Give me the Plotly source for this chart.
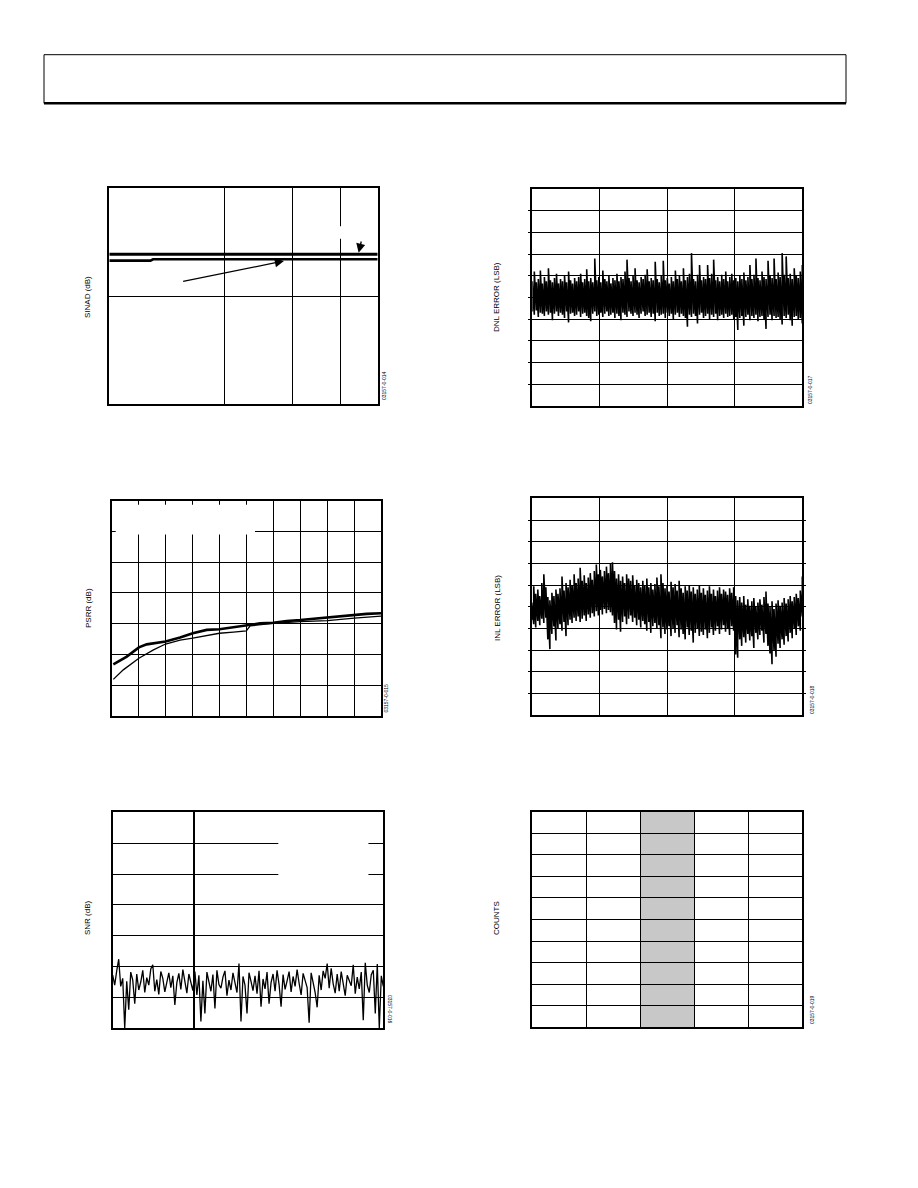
import numpy as np
import plotly.graph_objects as go

# page (window) size and the 8px body margin of the html page
PAGE_W, PAGE_H = 918, 1188
OFF = 8
W, H = PAGE_W - 2 * OFF, PAGE_H - 2 * OFF

# ---------------- data ----------------
# SINAD vs frequency (log x)
sinad_freq_a = [1, 2, 3, 4, 5]
sinad_a = [87.8, 87.8, 87.8, 87.8, 87.8]
sinad_freq_b = [1, 1.28, 1.30, 2, 3, 4, 5]
sinad_b = [86.6, 86.6, 86.85, 86.85, 86.85, 86.85, 86.85]
sinad_arrow_heads = [(2.85, 86.54), (4.46, 88.07)]
sinad_arrow_tails = [(1.543, 82.7), (4.54, 90.43)]

# DNL error envelope per code column (LSB)
dnl_hi = [0.15, 0.24, 0.14, 0.17, 0.25, 0.13, 0.19, 0.15, 0.27, 0.16,
          0.14, 0.18, 0.22, 0.13, 0.17, 0.15, 0.20, 0.14, 0.24, 0.16,
          0.13, 0.18, 0.15, 0.19, 0.22, 0.14, 0.17, 0.26, 0.15, 0.18,
          0.14, 0.36, 0.16, 0.19, 0.14, 0.25, 0.17, 0.15, 0.20, 0.13,
          0.18, 0.16, 0.22, 0.15, 0.19, 0.17, 0.24, 0.35, 0.18, 0.15,
          0.20, 0.27, 0.16, 0.14, 0.19, 0.17, 0.21, 0.26, 0.15, 0.18,
          0.16, 0.33, 0.17, 0.14, 0.20, 0.34, 0.16, 0.18, 0.13, 0.19,
          0.15, 0.25, 0.17, 0.20, 0.15, 0.27, 0.16, 0.19, 0.22, 0.41,
          0.17, 0.15, 0.21, 0.30, 0.16, 0.19, 0.17, 0.30, 0.18, 0.22,
          0.35, 0.16, 0.19, 0.15, 0.21, 0.17, 0.24, 0.15, 0.19, 0.22,
          0.16, 0.18, 0.15, 0.20, 0.17, 0.23, 0.16, 0.19, 0.30, 0.17,
          0.21, 0.36, 0.18, 0.16, 0.24, 0.19, 0.17, 0.34, 0.20, 0.18,
          0.36, 0.17, 0.23, 0.19, 0.41, 0.21, 0.38, 0.18, 0.22, 0.17,
          0.27, 0.20, 0.18, 0.24, 0.30]
dnl_lo = [-0.13, -0.16, -0.12, -0.18, -0.14, -0.15, -0.17, -0.13, -0.16, -0.14,
          -0.21, -0.15, -0.13, -0.17, -0.14, -0.16, -0.19, -0.13, -0.23, -0.15,
          -0.14, -0.17, -0.16, -0.13, -0.18, -0.15, -0.14, -0.17, -0.19, -0.22,
          -0.15, -0.13, -0.17, -0.16, -0.14, -0.18, -0.15, -0.13, -0.17, -0.16,
          -0.14, -0.19, -0.15, -0.17, -0.21, -0.14, -0.16, -0.18, -0.13, -0.15,
          -0.17, -0.14, -0.16, -0.19, -0.15, -0.13, -0.17, -0.16, -0.14, -0.18,
          -0.15, -0.22, -0.14, -0.17, -0.16, -0.15, -0.19, -0.14, -0.17, -0.15,
          -0.20, -0.16, -0.14, -0.18, -0.15, -0.17, -0.19, -0.27, -0.16, -0.18,
          -0.15, -0.17, -0.24, -0.16, -0.14, -0.19, -0.17, -0.15, -0.20, -0.16,
          -0.18, -0.15, -0.21, -0.17, -0.16, -0.19, -0.15, -0.18, -0.17, -0.16,
          -0.20, -0.18, -0.30, -0.19, -0.17, -0.26, -0.18, -0.16, -0.21, -0.17,
          -0.19, -0.16, -0.22, -0.18, -0.17, -0.20, -0.29, -0.18, -0.16, -0.21,
          -0.17, -0.19, -0.18, -0.20, -0.25, -0.17, -0.19, -0.16, -0.21, -0.26,
          -0.18, -0.17, -0.20, -0.19, -0.24]

# INL error envelope per code column (LSB)
inl_hi = [0.04, 0.19, 0.12, 0.16, 0.10, 0.22, 0.30, 0.18, 0.09, 0.06,
          0.13, 0.10, 0.16, 0.12, 0.17, 0.28, 0.15, 0.22, 0.18, 0.25,
          0.20, 0.30, 0.22, 0.26, 0.36, 0.24, 0.29, 0.22, 0.27, 0.31,
          0.25, 0.33, 0.39, 0.30, 0.34, 0.28, 0.33, 0.37, 0.31, 0.40,
          0.41, 0.33, 0.26, 0.30, 0.24, 0.28, 0.22, 0.30, 0.26, 0.24,
          0.29, 0.20, 0.25, 0.22, 0.18, 0.24, 0.20, 0.26, 0.18, 0.22,
          0.16, 0.21, 0.27, 0.19, 0.30, 0.22, 0.17, 0.20, 0.14, 0.23,
          0.18, 0.21, 0.15, 0.24, 0.17, 0.13, 0.19, 0.15, 0.20, 0.14,
          0.18, 0.12, 0.16, 0.20, 0.13, 0.17, 0.11, 0.15, 0.19, 0.12,
          0.16, 0.10, 0.15, 0.18, 0.12, 0.16, 0.14, 0.11, 0.17, 0.13,
          0.18, 0.10, 0.06, 0.09, 0.04, 0.10, 0.02, 0.07, 0.01, 0.05,
          0.08, 0.00, 0.04, 0.07, 0.02, 0.09, 0.14, 0.03, 0.00, 0.05,
          -0.02, 0.03, 0.06, 0.01, 0.04, 0.08, 0.03, 0.07, 0.10, 0.05,
          0.09, 0.12, 0.08, 0.15, 0.28]
inl_lo = [-0.12, -0.16, -0.19, -0.13, -0.17, -0.11, -0.15, -0.10, -0.30, -0.39,
          -0.25, -0.18, -0.31, -0.20, -0.16, -0.22, -0.14, -0.27, -0.17, -0.12,
          -0.15, -0.10, -0.13, -0.09, -0.14, -0.11, -0.08, -0.13, -0.07, -0.10,
          -0.06, -0.09, -0.04, -0.08, -0.03, -0.07, -0.02, -0.06, -0.03, -0.05,
          -0.08, -0.15, -0.21, -0.12, -0.23, -0.14, -0.09, -0.16, -0.11, -0.08,
          -0.14, -0.10, -0.17, -0.12, -0.19, -0.13, -0.16, -0.22, -0.14, -0.24,
          -0.18, -0.15, -0.20, -0.17, -0.29, -0.19, -0.25, -0.21, -0.18, -0.27,
          -0.20, -0.24, -0.17, -0.28, -0.21, -0.25, -0.30, -0.19, -0.26, -0.22,
          -0.33, -0.24, -0.20, -0.27, -0.23, -0.26, -0.21, -0.29, -0.24, -0.19,
          -0.26, -0.22, -0.18, -0.25, -0.21, -0.17, -0.23, -0.20, -0.26, -0.18,
          -0.22, -0.44, -0.47, -0.30, -0.36, -0.28, -0.33, -0.25, -0.31, -0.27,
          -0.38, -0.24, -0.30, -0.26, -0.22, -0.33, -0.25, -0.36, -0.43, -0.53,
          -0.40, -0.46, -0.34, -0.38, -0.30, -0.35, -0.27, -0.32, -0.24, -0.29,
          -0.20, -0.26, -0.18, -0.22, -0.09]

# PSRR vs frequency
psrr_freq_a = [0.6, 5.6, 10.1, 13.0, 20.0, 25.4, 30.1, 35.3, 40.0, 45.2, 50.0,
               55.1, 60.0, 65.0, 70.0, 74.9, 80.1, 84.8, 90.1, 94.7, 100]
psrr_a = [16.8, 19.3, 22.3, 23.3, 24.2, 25.5, 26.9, 28.0, 28.2, 28.8, 29.3,
          30.1, 30.3, 30.9, 31.2, 31.6, 32.0, 32.3, 32.8, 33.2, 33.4]
psrr_freq_b = [0.6, 4.3, 10.1, 15.5, 20.0, 25.4, 30.1, 35.3, 40.0, 45.2, 50.0,
               51.4, 60.0, 70.0, 80.1, 90.1, 100]
psrr_b = [11.9, 15.0, 18.8, 21.5, 23.4, 24.7, 25.3, 26.1, 26.9, 27.3, 27.7,
          29.3, 30.1, 30.7, 31.0, 31.8, 32.5]

# SNR noise trace
snr_vals = [48.6, 47.0, 49.3, 51.2, 46.8, 48.1, 40.0, 47.6, 43.0, 49.1,
            47.8, 44.0, 48.8, 46.2, 47.5, 49.4, 45.8, 48.2, 47.0, 49.6,
            50.3, 46.0, 47.9, 45.5, 49.2, 48.1, 45.9, 47.2, 49.0, 46.6,
            48.5, 43.8, 47.4, 48.9, 46.3, 49.5, 47.9, 45.7, 48.8, 47.3,
            46.1, 49.2, 45.4, 48.6, 41.1, 47.7, 42.4, 49.1, 47.5, 46.0,
            48.7, 43.2, 49.4, 47.1, 46.5, 48.3, 49.3, 45.3, 47.8, 46.2,
            49.0, 47.5, 45.8, 50.5, 41.1, 48.4, 47.0, 42.4, 49.0, 47.6,
            46.1, 48.5, 45.6, 49.3, 43.5, 48.0, 46.4, 49.1, 44.0, 47.4,
            48.8, 46.0, 49.4, 47.1, 43.5, 48.7, 46.3, 47.7, 49.2, 45.9,
            48.4, 46.8, 49.5, 47.3, 45.4, 48.9, 47.6, 46.6, 40.9, 49.0,
            47.4, 45.8, 43.4, 48.6, 46.2, 49.3, 48.1, 50.5, 46.5, 49.7,
            47.2, 45.7, 48.8, 46.0, 49.2, 47.4, 45.3, 48.6, 47.8, 46.9,
            50.3, 45.6, 48.3, 46.4, 49.1, 41.3, 50.6, 47.0, 45.8, 48.7,
            49.4, 42.4, 50.4, 40.0, 48.5, 46.8]

# Histogram of codes
hist_codes = [32766, 32767, 32768, 32769, 32770]
hist_counts = [0, 0, 8192, 0, 0]

fig_ids = ["03157-0-014", "03157-0-017", "03157-0-015",
           "03157-0-018", "03157-0-016", "03157-0-019"]
y_titles = ["SINAD (dB)", "DNL ERROR (LSB)", "PSRR (dB)",
            "INL ERROR (LSB)", "SNR (dB)", "COUNTS"]

# ---------------- layout helpers ----------------
def fx(px):
    return (px - OFF) / W

def fy(py):
    return 1 - (py - OFF) / H

boxes = {
    1: (109.3, 377.7, 188.3, 404.3),
    2: (532.3, 802.3, 189.3, 405.7),
    3: (111.7, 381.0, 500.7, 716.0),
    4: (531.7, 802.3, 498.3, 715.3),
    5: (112.7, 383.3, 812.3, 1028.3),
    6: (532.3, 802.3, 811.7, 1027.3),
}

FONT = "Liberation Sans, Arial, sans-serif"
fig = go.Figure()


def zigzag(hi, lo, x0, x1):
    n = len(hi)
    xs = np.linspace(x0, x1, n)
    X, Y = [], []
    for i in range(n):
        X += [xs[i], xs[i]]
        Y += [lo[i], hi[i]]
    return X, Y


# Chart 1: SINAD
fig.add_trace(go.Scatter(x=sinad_freq_a, y=sinad_a, mode="lines",
                         line=dict(color="black", width=3), xaxis="x", yaxis="y"))
fig.add_trace(go.Scatter(x=sinad_freq_b, y=sinad_b, mode="lines",
                         line=dict(color="black", width=2.6), xaxis="x", yaxis="y"))

# Chart 2: DNL
X, Y = zigzag(dnl_hi, dnl_lo, 0, 65535)
fig.add_trace(go.Scatter(x=X, y=Y, mode="lines", line=dict(color="black", width=1.6),
                         xaxis="x2", yaxis="y2"))

# Chart 3: PSRR
fig.add_trace(go.Scatter(x=psrr_freq_a, y=psrr_a, mode="lines",
                         line=dict(color="black", width=2.6), xaxis="x3", yaxis="y3"))
fig.add_trace(go.Scatter(x=psrr_freq_b, y=psrr_b, mode="lines",
                         line=dict(color="black", width=1.3), xaxis="x3", yaxis="y3"))

# Chart 4: INL
X, Y = zigzag(inl_hi, inl_lo, 0, 65535)
fig.add_trace(go.Scatter(x=X, y=Y, mode="lines", line=dict(color="black", width=1.6),
                         xaxis="x4", yaxis="y4"))

# Chart 5: SNR
snr_x = np.linspace(0, 10, len(snr_vals))
fig.add_trace(go.Scatter(x=snr_x, y=snr_vals, mode="lines",
                         line=dict(color="black", width=1.3), xaxis="x5", yaxis="y5"))

# Chart 6: histogram (translucent black => #c8c8c8 on white, gridlines stay black)
fig.add_trace(go.Bar(x=hist_codes, y=hist_counts, width=1,
                     marker=dict(color="rgba(0,0,0,0.216)", line=dict(width=0)),
                     xaxis="x6", yaxis="y6"))

base = dict(showline=True, linecolor="black", linewidth=2, mirror=True,
            showgrid=True, gridcolor="black", gridwidth=1, zeroline=False,
            showticklabels=False, ticks="", fixedrange=True)


def dom(k):
    l, r, t, b = boxes[k]
    return [fx(l), fx(r)], [fy(b), fy(t)]


axes = {}
dx, dy = dom(1)
axes["xaxis"] = dict(base, domain=dx, anchor="y", type="log",
                     range=[0, np.log10(5)], tickvals=[2, 3, 4])
axes["yaxis"] = dict(base, domain=dy, anchor="x", range=[60, 100], tickvals=[80])
dx, dy = dom(2)
axes["xaxis2"] = dict(base, domain=dx, anchor="y2", range=[0, 65536],
                      tickvals=[16384, 32768, 49152])
axes["yaxis2"] = dict(base, domain=dy, anchor="x2", range=[-1, 1],
                      tickvals=[-0.8, -0.6, -0.4, -0.2, 0, 0.2, 0.4, 0.6, 0.8],
                      ticks="outside", ticklen=2, tickcolor="black", tickwidth=1)
dx, dy = dom(3)
axes["xaxis3"] = dict(base, domain=dx, anchor="y3", range=[0, 100],
                      tickvals=[10, 20, 30, 40, 50, 60, 70, 80, 90],
                      ticks="inside", ticklen=3, tickcolor="black", mirror="ticks")
axes["yaxis3"] = dict(base, domain=dy, anchor="x3", range=[0, 70],
                      tickvals=[10, 20, 30, 40, 50, 60],
                      ticks="inside", ticklen=3, tickcolor="black", mirror="ticks")
dx, dy = dom(4)
axes["xaxis4"] = dict(base, domain=dx, anchor="y4", range=[0, 65536],
                      tickvals=[16384, 32768, 49152])
axes["yaxis4"] = dict(base, domain=dy, anchor="x4", range=[-1, 1],
                      tickvals=[-0.8, -0.6, -0.4, -0.2, 0, 0.2, 0.4, 0.6, 0.8],
                      ticks="outside", ticklen=2, tickcolor="black", tickwidth=1,
                      mirror="ticks")
dx, dy = dom(5)
axes["xaxis5"] = dict(base, domain=dx, anchor="y5", range=[0, 10], tickvals=[3],
                      gridwidth=1.6)
axes["yaxis5"] = dict(base, domain=dy, anchor="x5", range=[40, 75],
                      tickvals=[45, 50, 55, 60, 65, 70])
dx, dy = dom(6)
axes["xaxis6"] = dict(base, domain=dx, anchor="y6", range=[32765.5, 32770.5],
                      tickvals=[32766.5, 32767.5, 32768.5, 32769.5])
axes["yaxis6"] = dict(base, domain=dy, anchor="x6", range=[0, 8192],
                      tickvals=[819.2 * k for k in range(1, 10)])

annotations = []
for (hx, hy), (tx, ty) in zip(sinad_arrow_heads, sinad_arrow_tails):
    annotations.append(dict(x=np.log10(hx), y=hy, ax=np.log10(tx), ay=ty,
                            xref="x", yref="y", axref="x", ayref="y", text="",
                            showarrow=True, arrowhead=2, arrowsize=1.4,
                            arrowwidth=1.3, arrowcolor="black"))

title_pos = [(88, 297), (497, 297), (88, 608), (497, 608), (87, 918), (496, 918)]
for t, (px, py) in zip(y_titles, title_pos):
    annotations.append(dict(x=fx(px), y=fy(py), xref="paper", yref="paper",
                            text=t, showarrow=False, textangle=-90,
                            font=dict(family=FONT, size=8, color="black"),
                            xanchor="center", yanchor="middle"))

id_pos = [(384, 386, -90), (810, 390, -90), (385.5, 698, -90),
          (812, 700, -90), (390, 1009, 90), (812, 1010, -90)]
for t, (px, py, ang) in zip(fig_ids, id_pos):
    annotations.append(dict(x=fx(px), y=fy(py), xref="paper", yref="paper",
                            text=t, showarrow=False, textangle=ang,
                            font=dict(family=FONT, size=5, color="black"),
                            xanchor="center", yanchor="middle"))

shapes = [
    dict(type="rect", xref="paper", yref="paper", x0=fx(44), x1=fx(846),
         y0=fy(103.3), y1=fy(54.7), line=dict(color="black", width=1)),
    dict(type="line", xref="paper", yref="paper", x0=fx(44), x1=fx(846),
         y0=fy(103.3), y1=fy(103.3), line=dict(color="black", width=2.5)),
]
# white masks where chart labels were removed (fractions of the plot area)
masks = [
    ("x", "y", 0.78, 0.98, 0.766, 0.824),
    ("x3", "y3", 0.015, 0.532, 0.843, 0.981),
    ("x5", "y5", 0.612, 0.945, 0.67, 0.90),
]
for xa, ya, x0, x1, y0, y1 in masks:
    shapes.append(dict(type="rect", xref=f"{xa} domain", yref=f"{ya} domain",
                       x0=x0, x1=x1, y0=y0, y1=y1, fillcolor="white",
                       line=dict(width=0), layer="above"))

fig.update_layout(
    width=W, height=H, margin=dict(l=0, r=0, t=0, b=0),
    paper_bgcolor="white", plot_bgcolor="white", showlegend=False,
    annotations=annotations, shapes=shapes, **axes,
)

fig.write_html("out.html")
